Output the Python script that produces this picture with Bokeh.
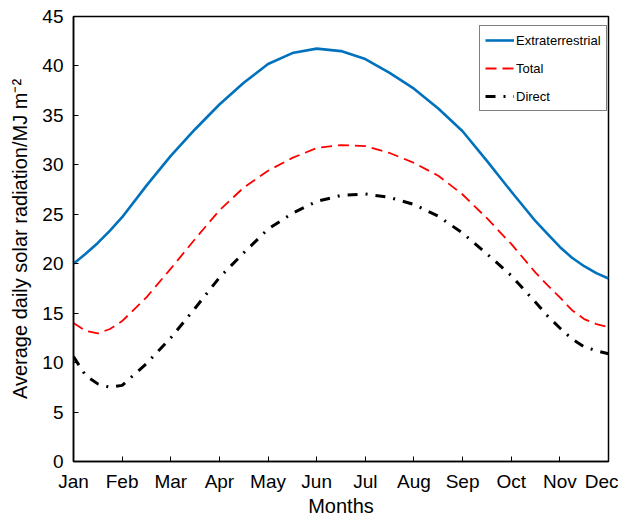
from bokeh.plotting import figure
from bokeh.models import Legend, LegendItem, FixedTicker, Range1d
from bokeh.embed import file_html
from bokeh.resources import INLINE

month_names = ["Jan", "Feb", "Mar", "Apr", "May", "Jun", "Jul", "Aug", "Sep", "Oct", "Nov", "Dec"]
month_x = [1, 1.25, 1.5, 1.75, 2, 2.5, 3, 3.5, 4, 4.5, 5, 5.5, 6, 6.5, 7, 7.5, 8, 8.5, 9, 9.5,
           10, 10.5, 10.75, 11, 11.25, 11.5, 11.75, 12]
extraterrestrial = [20.0, 21.0, 22.1, 23.35, 24.7, 27.9, 30.9, 33.6, 36.1, 38.3, 40.2, 41.3, 41.75, 41.5,
                    40.7, 39.3, 37.7, 35.7, 33.4, 30.4, 27.3, 24.3, 23.0, 21.7, 20.6, 19.75, 19.05, 18.5]
total = [14.0, 13.2, 12.95, 13.4, 14.2, 16.6, 19.5, 22.5, 25.4, 27.7, 29.4, 30.7, 31.7, 32.0,
         31.9, 31.2, 30.2, 28.9, 27.0, 24.6, 22.0, 19.1, 17.8, 16.6, 15.3, 14.4, 13.9, 13.6]
direct = [10.6, 8.7, 7.85, 7.5, 7.7, 9.9, 12.5, 15.5, 18.6, 21.1, 23.5, 25.1, 26.3, 26.9,
          27.05, 26.7, 26.0, 24.8, 23.1, 21.0, 18.8, 16.1, 14.7, 13.5, 12.4, 11.6, 11.2, 10.9]
y_ticks = [0, 5, 10, 15, 20, 25, 30, 35, 40, 45]

FONT = "Liberation Sans"

p = figure(width=618, height=520, output_backend="svg", toolbar_location=None,
           x_range=Range1d(1, 12), y_range=Range1d(0, 45),
           min_border_left=73, min_border_right=10, min_border_top=16, min_border_bottom=59)
p.background_fill_color = "white"
p.border_fill_color = "white"
p.xgrid.visible = False
p.ygrid.visible = False
p.outline_line_color = "black"
p.outline_line_width = 1.5
p.outline_line_alpha = 1.0

r_ext = p.line(month_x, extraterrestrial, line_color="#0072BD", line_width=2.6, line_join="round")
r_tot = p.line(month_x, total, line_color="#FF0000", line_width=1.8, line_dash="11 6", line_join="round")
r_dir = p.line(month_x, direct, line_color="black", line_width=3, line_dash="10 8 2 8", line_join="round")

for ax in (p.xaxis[0], p.yaxis[0]):
    ax.axis_line_color = "black"
    ax.axis_line_width = 1.5
    ax.major_tick_line_color = "black"
    ax.major_tick_line_width = 1
    ax.major_tick_in = 5
    ax.major_tick_out = 0
    ax.minor_tick_line_color = None
    ax.major_label_text_font = FONT
    ax.major_label_text_font_size = "19px"
    ax.major_label_text_color = "black"
    ax.axis_label_text_font = FONT
    ax.axis_label_text_font_size = "20px"
    ax.axis_label_text_font_style = "normal"
    ax.axis_label_text_color = "black"

p.xaxis[0].ticker = FixedTicker(ticks=list(range(1, 13)))
p.xaxis[0].major_label_overrides = {i + 1: name for i, name in enumerate(month_names)}
p.xaxis[0].major_label_standoff = 9
p.xaxis[0].axis_label = "Months"
p.xaxis[0].axis_label_standoff = 0

p.yaxis[0].ticker = FixedTicker(ticks=y_ticks)
p.yaxis[0].major_label_standoff = 10
p.yaxis[0].axis_label = "Average daily solar radiation/MJ m\u207b\u00b2"
p.yaxis[0].axis_label_standoff = 8

legend = Legend(items=[
    LegendItem(label="Extraterrestrial", renderers=[r_ext]),
    LegendItem(label="Total", renderers=[r_tot]),
    LegendItem(label="Direct", renderers=[r_dir]),
], location=(406, 350))
legend.label_text_font = FONT
legend.label_text_font_size = "13px"
legend.label_text_color = "black"
legend.glyph_width = 29
legend.glyph_height = 18
legend.label_height = 18
legend.label_standoff = 2
legend.spacing = 10
legend.padding = 5
legend.margin = 0
legend.border_line_color = "black"
legend.border_line_width = 1.5
legend.background_fill_color = "white"
legend.background_fill_alpha = 1.0
p.add_layout(legend, "center")

open("out.html", "w").write(file_html(p, INLINE))
